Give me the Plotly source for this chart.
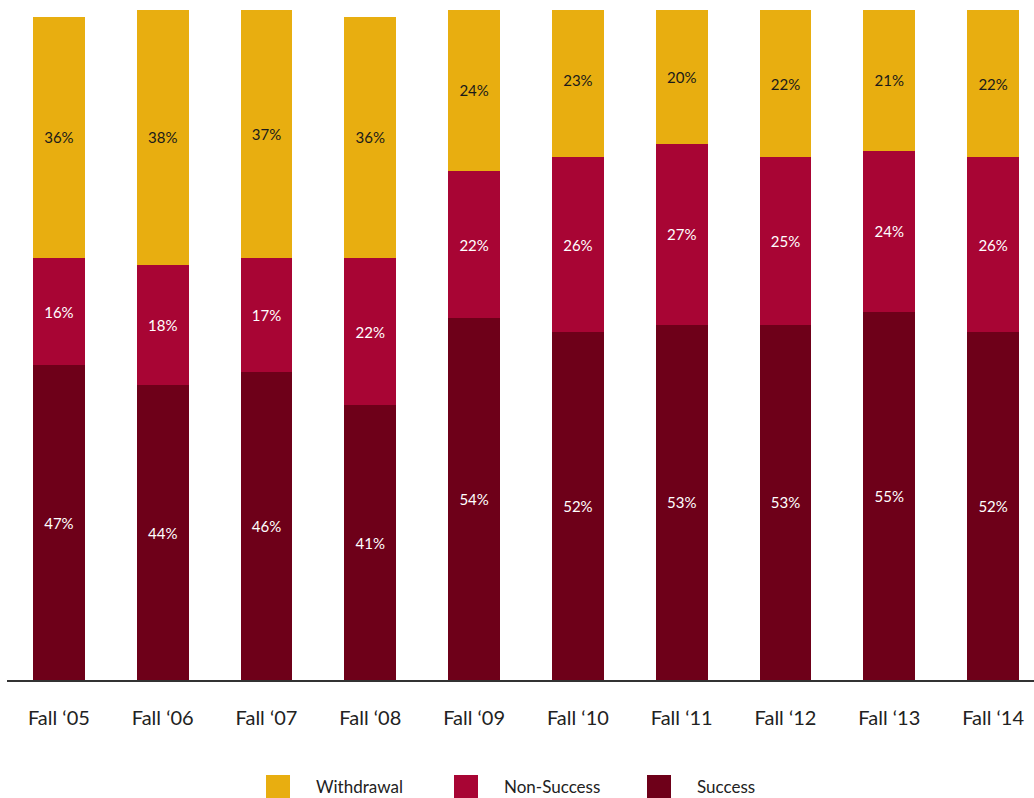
import plotly.graph_objects as go

categories = ["Fall \u201805", "Fall \u201806", "Fall \u201807", "Fall \u201808", "Fall \u201809",
              "Fall \u201810", "Fall \u201811", "Fall \u201812", "Fall \u201813", "Fall \u201814"]
success = [47, 44, 46, 41, 54, 52, 53, 53, 55, 52]
non_success = [16, 18, 17, 22, 22, 26, 27, 25, 24, 26]
withdrawal = [36, 38, 37, 36, 24, 23, 20, 22, 21, 22]

series_names = ["Success", "Non-Success", "Withdrawal"]
colors = {"Success": "#6E0019", "Non-Success": "#A80534", "Withdrawal": "#E8AE10"}
text_colors = {"Success": "#FFFFFF", "Non-Success": "#FFFFFF", "Withdrawal": "#1A1A1A"}
values = {"Success": success, "Non-Success": non_success, "Withdrawal": withdrawal}

FONT = "Lato, 'Open Sans', sans-serif"

fig = go.Figure()
x_idx = list(range(len(categories)))
for name in series_names:
    vals = values[name]
    fig.add_trace(go.Bar(
        x=x_idx, y=vals, name=name,
        marker=dict(color=colors[name], line=dict(width=0)),
        width=0.5,
        text=[f"{v}%" for v in vals],
        textposition="inside", insidetextanchor="middle", textangle=0,
        textfont=dict(color=text_colors[name], size=15, family=FONT),
        showlegend=False,
        hoverinfo="skip",
    ))

fig.update_layout(
    barmode="stack",
    width=1034, height=798,
    margin=dict(l=7, r=0, t=10, b=118),
    plot_bgcolor="white", paper_bgcolor="white",
    font=dict(family=FONT, color="#222222"),
    uniformtext=dict(minsize=15, mode="show"),
    xaxis=dict(
        range=[-0.5, 9.394], tickmode="array", tickvals=x_idx, ticktext=categories,
        showgrid=False, zeroline=False, showline=True, linecolor="#333333", linewidth=1.5,
        ticks="", tickfont=dict(size=20, color="#222222", family=FONT),
        ticklabelstandoff=19,
    ),
    yaxis=dict(range=[0, 100], visible=False, showgrid=False),
)

# Legend drawn as swatches with labels beneath the plot
legend_items = [("Withdrawal", 266, 314), ("Non-Success", 454, 502), ("Success", 647, 695)]
for name, sx, tx in legend_items:
    fig.add_shape(type="rect", xref="paper", yref="paper",
                  x0=(sx - 7) / 1027, x1=(sx + 24 - 7) / 1027,
                  y0=(680 - 798) / 670, y1=(680 - 775) / 670,
                  fillcolor=colors[name], line=dict(width=0))
    fig.add_annotation(xref="paper", yref="paper", x=(tx - 7) / 1027, y=(680 - 786) / 670,
                       text=name, showarrow=False, xanchor="left", yanchor="middle",
                       font=dict(size=17, color="#222222", family=FONT))

fig.write_html("out.html")
